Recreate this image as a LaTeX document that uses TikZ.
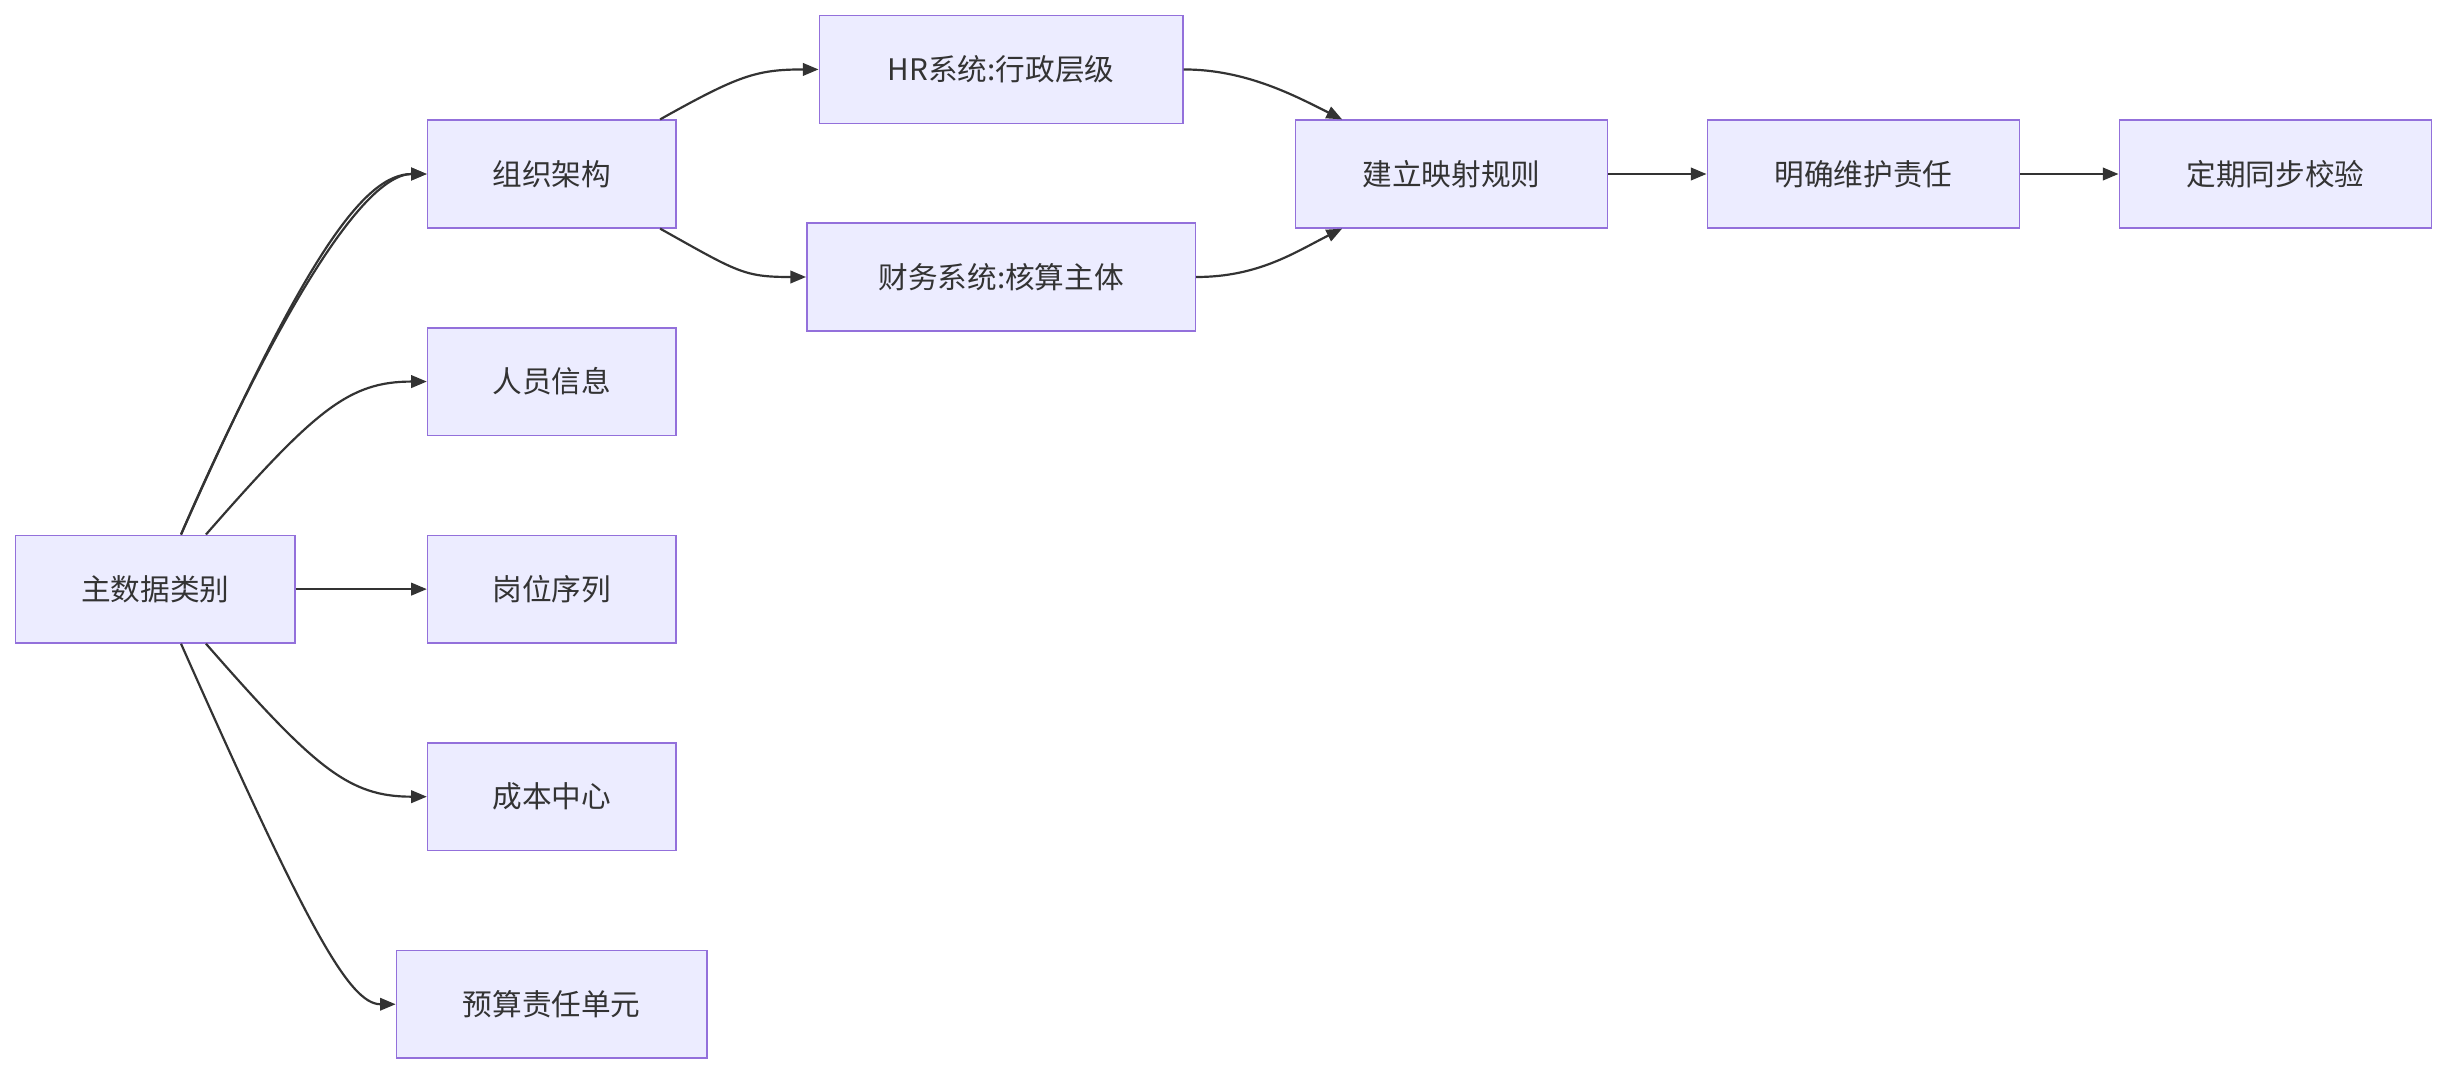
\documentclass[tikz,border=0pt]{standalone}
\usepackage{fontspec}
\setmainfont{Noto Sans CJK SC}
\usetikzlibrary{arrows.meta}
\definecolor{nfill}{HTML}{ECECFF}
\definecolor{nedge}{HTML}{9370DB}
\definecolor{ln}{HTML}{333333}
\begin{document}
\begin{tikzpicture}[x=1pt,y=-1pt,
  box/.style={draw=nedge,fill=nfill,line width=1pt,minimum height=69pt,inner sep=0pt,font=\fontsize{19}{22}\selectfont,text=ln},
  e/.style={draw=ln,line width=1.4pt,-{Triangle[length=10pt,width=8pt]}}]
\useasboundingbox[fill=white] (0,0) rectangle (1568,690);
\node[box,minimum width=179pt] (m) at (99.5,377.5) {主数据类别};
\node[box,minimum width=159pt] (o) at (353.5,111.5) {组织架构};
\node[box,minimum width=159pt] (p) at (353.5,244.5) {人员信息};
\node[box,minimum width=159pt] (g) at (353.5,377.5) {岗位序列};
\node[box,minimum width=159pt] (c) at (353.5,510.5) {成本中心};
\node[box,minimum width=199pt] (b) at (353.5,643.5) {预算责任单元};
\node[box,minimum width=233pt] (hr) at (641.5,44.5) {HR系统:行政层级};
\node[box,minimum width=249pt] (f) at (641.5,177.5) {财务系统:核算主体};
\node[box,minimum width=200pt] (r) at (930,111.5) {建立映射规则};
\node[box,minimum width=200pt] (d) at (1194,111.5) {明确维护责任};
\node[box,minimum width=200pt] (s) at (1458,111.5) {定期同步校验};
\draw[e] ([xshift=16.5pt]m.north) .. controls +(0,0) and +(-60,0) .. ([yshift=0pt]o.west) ;
\draw[e] ([xshift=16.5pt]m.north) .. controls +(80,-180) and +(-40,0) .. (o.west);
\draw[e] ([xshift=32.5pt]m.north) .. controls +(70,-80) and +(-50,0) .. (p.west);
\draw[e] (m.east) -- (g.west);
\draw[e] ([xshift=32.5pt]m.south) .. controls +(70,80) and +(-50,0) .. (c.west);
\draw[e] ([xshift=16.5pt]m.south) .. controls +(80,180) and +(-30,0) .. (b.west);
\draw[e] ([xshift=69.5pt]o.north) .. controls +(50,-28) and +(-40,0) .. (hr.west);
\draw[e] ([xshift=69.5pt]o.south) .. controls +(50,28) and +(-40,0) .. (f.west);
\draw[e] (hr.east) .. controls +(40,0) and +(-30,-15) .. ([xshift=-70pt]r.north);
\draw[e] (f.east) .. controls +(40,0) and +(-30,15) .. ([xshift=-70pt]r.south);
\draw[e] (r.east) -- (d.west);
\draw[e] (d.east) -- (s.west);
\end{tikzpicture}
\end{document}
